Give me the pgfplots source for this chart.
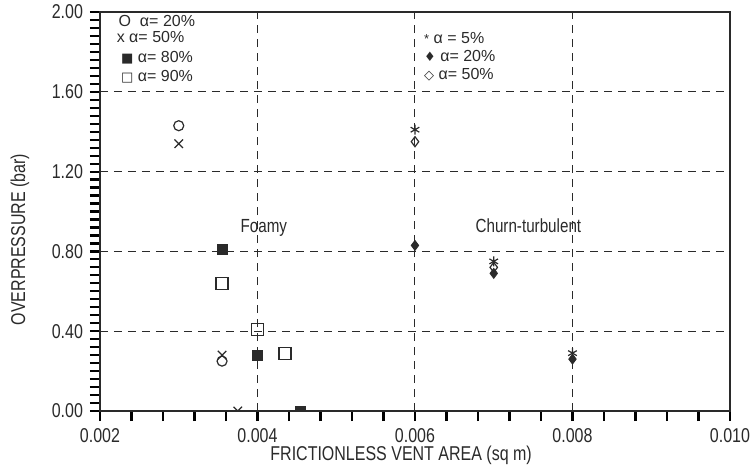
\documentclass[border=0pt]{standalone}
\usepackage{pgfplots}
\pgfplotsset{compat=1.18}
\usepackage{fontspec}
\setmainfont{Liberation Sans}[FakeStretch=0.8]
\newfontfamily\legfont{Liberation Sans}
\newfontfamily\symfont{DejaVu Sans}
\definecolor{ink}{HTML}{2A2A2A}
\begin{document}
\begin{tikzpicture}
\path[use as bounding box] (-50pt,-31pt) rectangle (327pt,205.5pt);
\begin{axis}[
  at={(0,0)}, anchor=south west,
  width=315pt, height=199.5pt, scale only axis,
  xmin=0.002, xmax=0.010, ymin=0, ymax=2,
  xtick={0.002,0.004,0.006,0.008,0.010},
  ytick={0,0.4,0.8,1.2,1.6,2.0},
  minor x tick num=4, minor y tick num=9,
  tick align=outside, xtick pos=bottom, ytick pos=left,
  xmajorgrids, ymajorgrids,
  major grid style={dash pattern=on 4pt off 3pt, ink, line width=0.5pt},
  axis line style={ink, line width=0.7pt},
  every tick/.append style={black, solid, line width=1.1pt},
  major tick length=5pt, minor tick length=5pt,
  scaled x ticks=false,
  xticklabel style={/pgf/number format/.cd, fixed, fixed zerofill, precision=3},
  yticklabel style={/pgf/number format/.cd, fixed, fixed zerofill, precision=2},
  /pgf/number format/assume math mode=true,
  tick label style={font=\fontsize{10}{12}\selectfont, text=ink},
  label style={font=\fontsize{10}{12}\selectfont, text=ink},
  xlabel={FRICTIONLESS VENT AREA (sq m)},
  ylabel={OVERPRESSURE (bar)},
  xlabel style={at={(axis description cs:0.478,-0.11)}, anchor=center},
  ylabel style={at={(axis description cs:-0.127,0.43)}, anchor=center},
  clip=true, clip marker paths=true,
]
% Foamy
\addplot[only marks, mark=o, mark size=2.5pt, ink, line width=0.6pt]
  coordinates {(0.003,1.43) (0.00355,0.25)};
\addplot[only marks, mark=x, mark size=3pt, ink, line width=0.6pt]
  coordinates {(0.003,1.34) (0.00355,0.28) (0.00375,0.0)};
\addplot[only marks, mark=square*, mark size=2.5pt, ink, fill=ink]
  coordinates {(0.00355,0.81) (0.004,0.28) (0.00455,0.0)};
\addplot[only marks, mark=square, mark size=3pt, ink, line width=0.6pt]
  coordinates {(0.00355,0.64) (0.004,0.41) (0.00435,0.29)};
% Churn-turbulent
\addplot[only marks, mark=asterisk, mark size=2.5pt, ink, line width=0.6pt]
  coordinates {(0.006,1.41) (0.007,0.75) (0.008,0.29)};
\addplot[only marks, mark=diamond*, mark size=2.5pt, ink, fill=ink]
  coordinates {(0.006,0.83) (0.007,0.69) (0.008,0.26)};
\addplot[only marks, mark=diamond, mark size=2.5pt, ink, line width=0.6pt]
  coordinates {(0.006,1.35) (0.007,0.72)};
% annotations
\node[font=\fontsize{9.5}{11}\selectfont, text=ink] at (axis cs:0.00408,0.92) {Foamy};
\node[font=\fontsize{9.5}{11}\selectfont, text=ink] at (axis cs:0.00744,0.93) {Churn-turbulent};
% legends
\begin{scope}[every node/.style={anchor=west, inner sep=0pt, font=\legfont\fontsize{8}{9}\selectfont, text=ink}]
\node at (rel axis cs:0.029,0.977) {O\ \ α= 20\%};
\node at (rel axis cs:0.026,0.938) {x α= 50\%};
\node at (rel axis cs:0.033,0.885) {{\symfont\fontsize{6.5}{7}\selectfont ■} α= 80\%};
\node at (rel axis cs:0.033,0.837) {{\symfont\fontsize{6.5}{7}\selectfont □} α= 90\%};
\node at (rel axis cs:0.514,0.935) {{\fontsize{6.5}{7}\selectfont *}\ α = 5\%};
\node at (rel axis cs:0.514,0.889) {{\symfont\fontsize{6.5}{7}\selectfont ♦} α= 20\%};
\node at (rel axis cs:0.514,0.843) {{\symfont\fontsize{6.5}{7}\selectfont ◇} α= 50\%};
\end{scope}
\end{axis}
\end{tikzpicture}
\end{document}
